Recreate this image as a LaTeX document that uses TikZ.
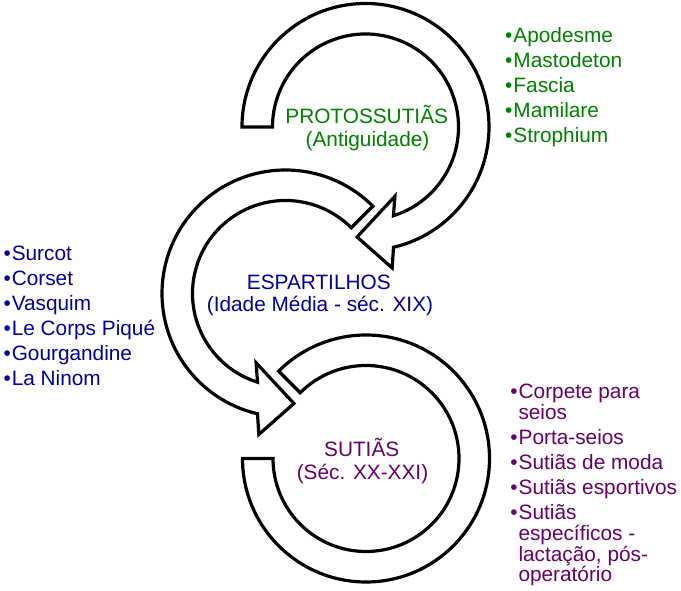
\documentclass[tikz,border=0pt]{standalone}
\usepackage{fontspec}
\setmainfont{Liberation Sans}
\usetikzlibrary{calc}
\definecolor{cgreen}{RGB}{0,128,0}
\definecolor{cblue}{RGB}{0,0,153}
\definecolor{cpurple}{RGB}{102,0,102}
\begin{document}
\begin{tikzpicture}[x=1pt,y=1pt,
  band/.style={draw=black,line width=3.2pt,fill=white,line join=miter},
  txt/.style={inner sep=0pt,anchor=base,font=\fontsize{20.8}{24}\selectfont},
  itm/.style={inner sep=0pt,anchor=base west,font=\fontsize{20.8}{24}\selectfont}]
\useasboundingbox (0,0) rectangle (681,591);
\coordinate (T) at (365.5,464);
\coordinate (M) at (285.5,297.5);
\coordinate (B) at (366,132.5);
% bottom band
\draw[band] ($(B)+(180:123.5)$) arc[start angle=180,end angle=495,radius=123.5]
  -- ($(B)+(495:93)$) arc[start angle=495,end angle=180,radius=93] -- cycle;
% middle arrow
\draw[band] ($(M)+(45:123.5)$) arc[start angle=45,end angle=256.9,radius=123.5]
  -- ($(M)+(-26.7,-141)$) -- ($(M)+(8.4,-110)$) -- ($(M)+(-29.4,-69.3)$)
  -- ($(M)+(252.5:93)$) arc[start angle=252.5,end angle=45,radius=93] -- cycle;
% top arrow
\draw[band] ($(T)+(180:123.5)$) arc[start angle=180,end angle=-76.9,radius=123.5]
  -- ($(T)+(26.7,-141)$) -- ($(T)+(-8.4,-110)$) -- ($(T)+(29.4,-69.3)$)
  -- ($(T)+(-72.5:93)$) arc[start angle=-72.5,end angle=180,radius=93] -- cycle;
% titles
\node[txt,text=cgreen] (t1) at (366.7,467) {PROTOSSUTIÃS};
\node[txt,text=cgreen] (t2) at (367.5,444.3) {(Antiguidade)};
\node[txt,text=cblue] (m1) at (318.8,301.7) {ESPARTILHOS};
\node[txt,text=cblue] (m2) at (320,279.3) {(Idade Média - séc. XIX)};
\node[txt,text=cpurple] (b1) at (361.7,134.3) {SUTIÃS};
\node[txt,text=cpurple] (b2) at (362.5,111.7) {(Séc. XX-XXI)};
% top-right list
\begin{scope}[every node/.style={itm,text=cgreen}]
\node (g1) at (505,548.3) {•\kern1pt Apodesme};
\node (g2) at (505,523.3) {•\kern1pt Mastodeton};
\node (g3) at (505,498.3) {•\kern1pt Fascia};
\node (g4) at (505,473.3) {•\kern1pt Mamilare};
\node (g5) at (505,448.3) {•\kern1pt Strophium};
\end{scope}
% left list
\begin{scope}[every node/.style={itm,text=cblue}]
\node (l1) at (3.3,330.5) {•\kern1pt Surcot};
\node (l2) at (3.3,305.5) {•\kern1pt Corset};
\node (l3) at (3.3,280.5) {•\kern1pt Vasquim};
\node (l4) at (3.3,255.5) {•\kern1pt Le Corps Piqué};
\node (l5) at (3.3,230.5) {•\kern1pt Gourgandine};
\node (l6) at (3.3,205.5) {•\kern1pt La Ninom};
\end{scope}
% bottom-right list
\begin{scope}[every node/.style={itm,text=cpurple}]
\node (p1) at (510.2,192.5) {•\kern1pt Corpete para};
\node (p1b) at (518.3,171.7) {seios};
\node (p2) at (510.2,146.5) {•\kern1pt Porta-seios};
\node (p3) at (510.2,121.5) {•\kern1pt Sutiãs de moda};
\node (p4) at (510.2,96.3) {•\kern1pt Sutiãs esportivos};
\node (p5) at (510.2,71.5) {•\kern1pt Sutiãs};
\node (p5b) at (518.3,50.5) {específicos -};
\node (p5c) at (518.3,29.7) {lactação, pós-};
\node (p5d) at (518.3,9) {operatório};
\end{scope}
\end{tikzpicture}
\end{document}
